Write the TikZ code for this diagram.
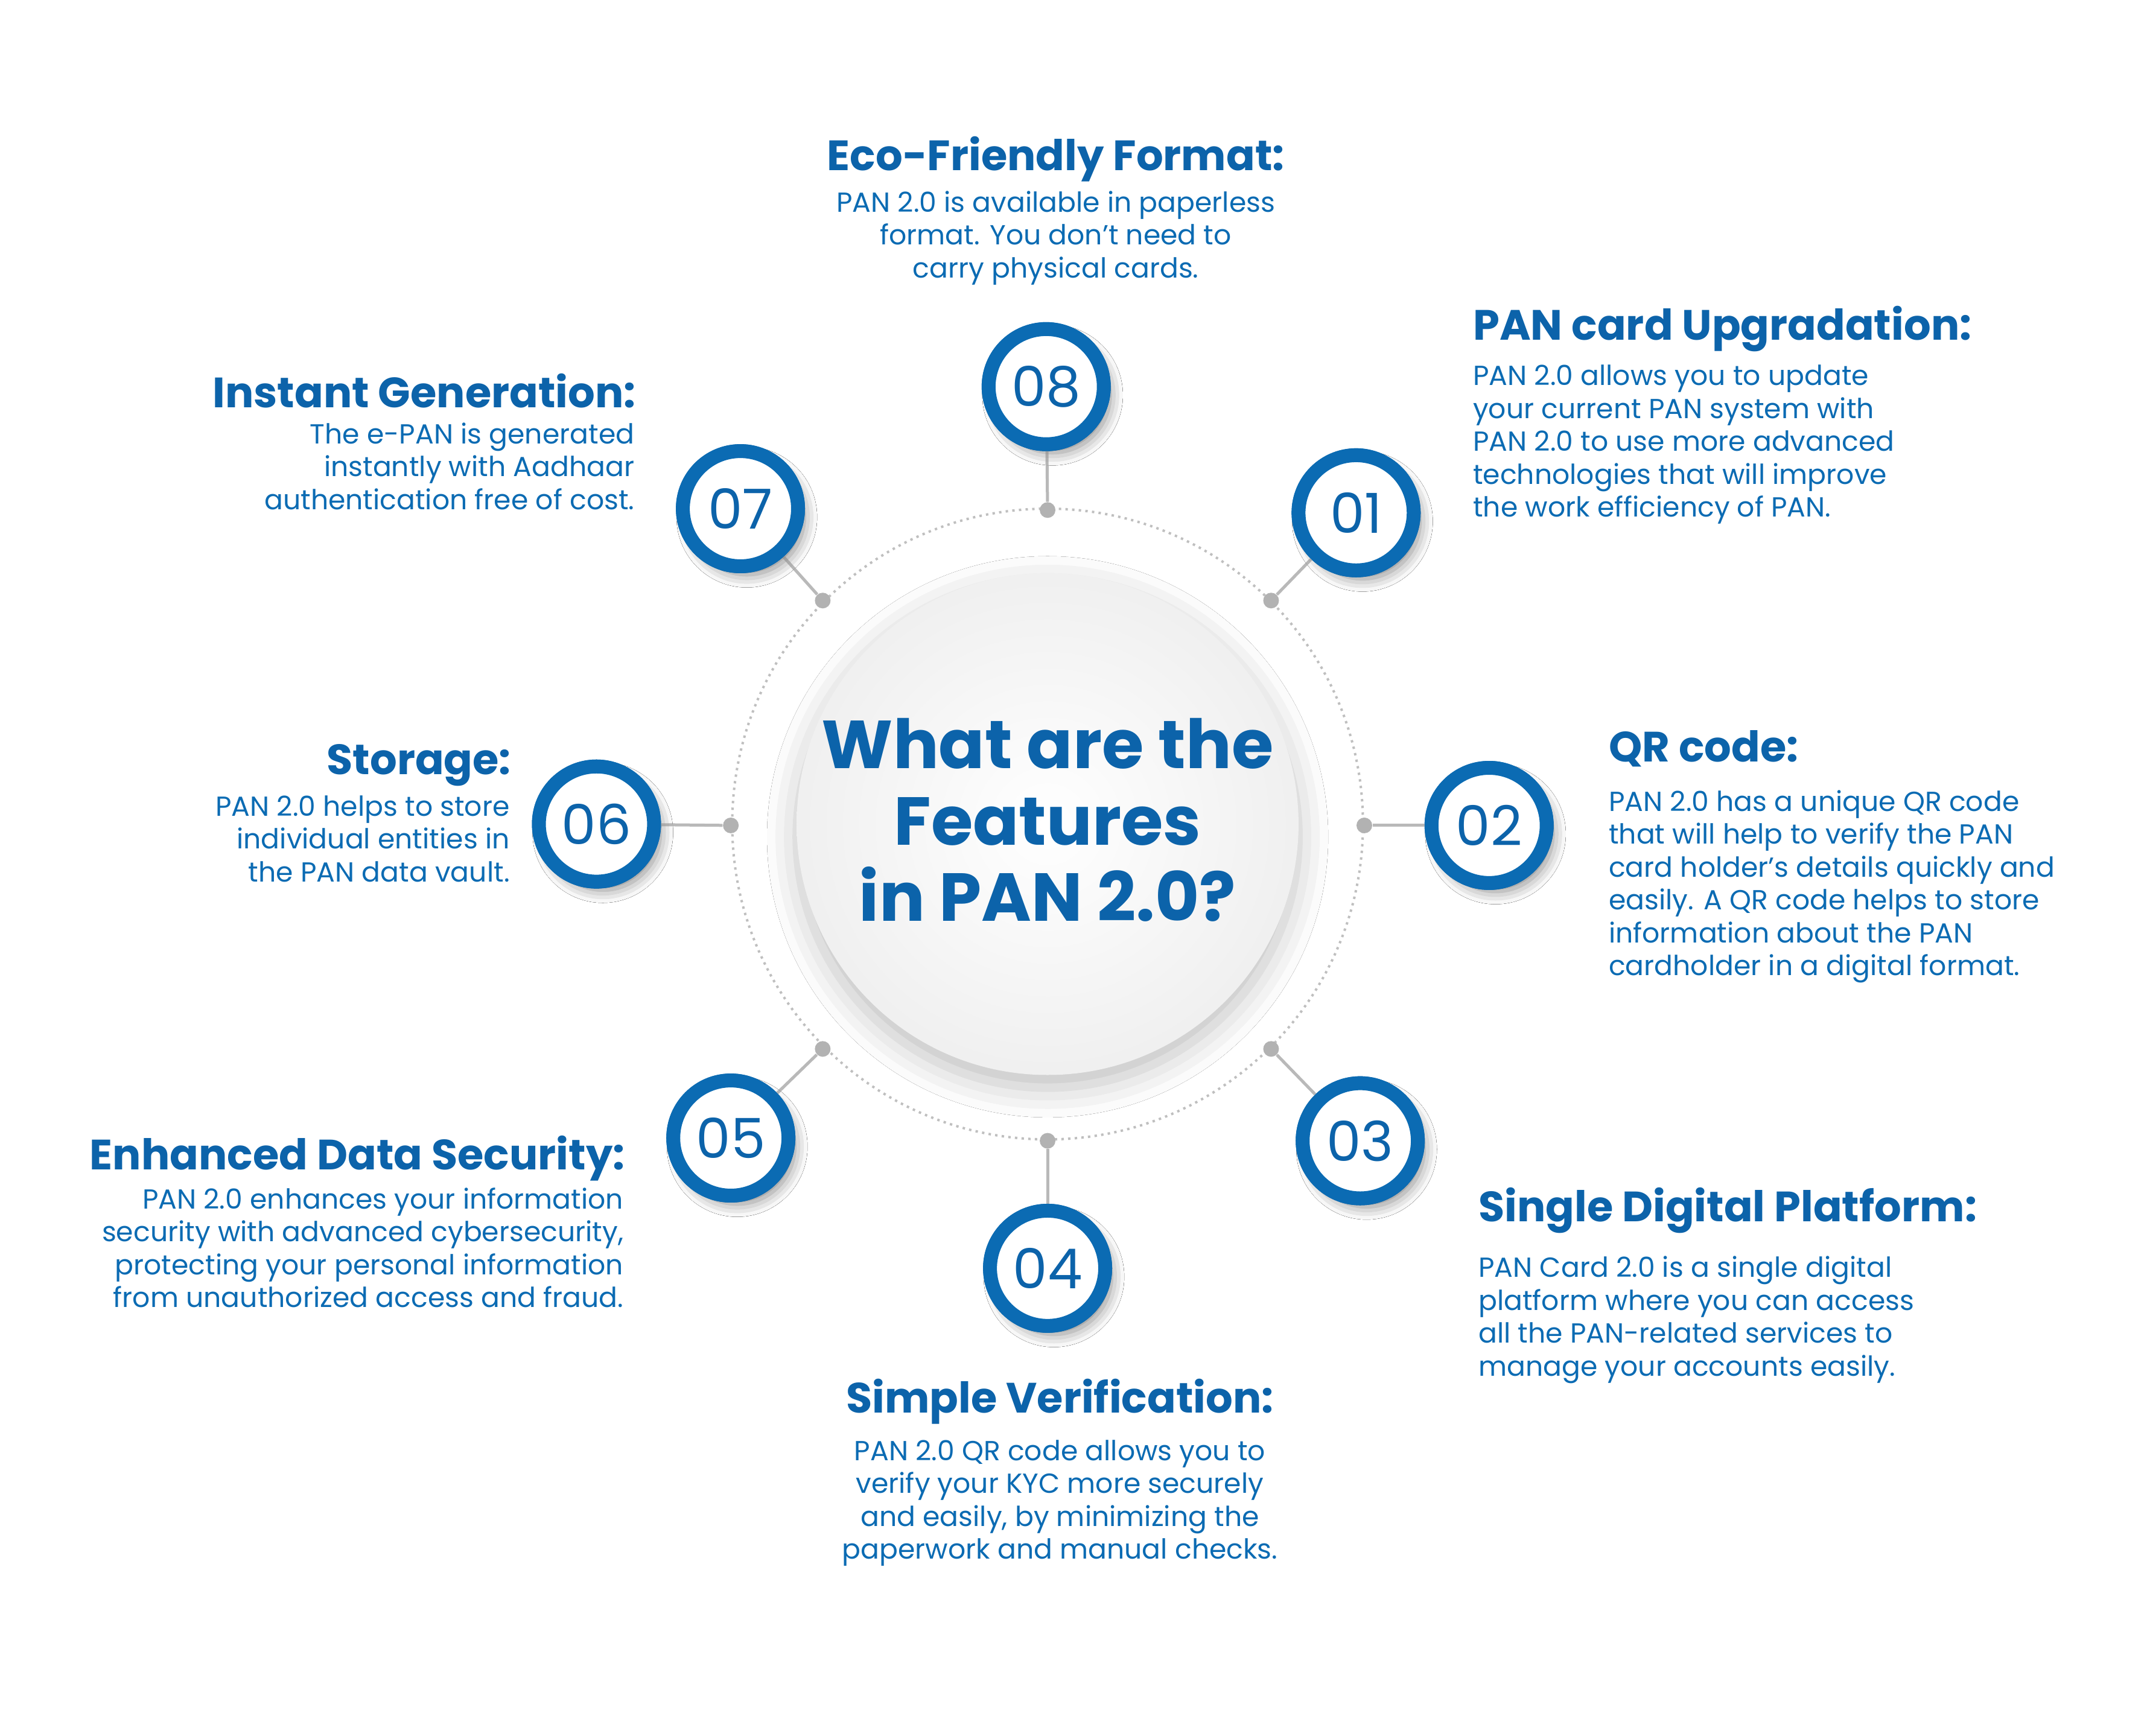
\documentclass[tikz,border=0pt]{standalone}
\usepackage{fontspec}
\setmainfont{Poppins}
\usetikzlibrary{shadows,shadows.blur}
\definecolor{pblue}{HTML}{0B6BB3}
\definecolor{tblue}{HTML}{0C63AA}
\begin{document}
\begin{tikzpicture}[x=0.02272cm,y=-0.02272cm,
 head/.style={font=\fontsize{20}{24}\selectfont\bfseries, text=tblue, inner sep=0},
 body/.style={font=\fontsize{13}{15.5}\selectfont, text=pblue, inner sep=0},
 numc/.style={circle, draw=pblue, line width=0.23cm, fill=white, minimum size=84*0.02272cm, font=\fontsize{26}{28}\selectfont, text=tblue, blur shadow={shadow xshift=3pt, shadow yshift=-4pt, shadow blur radius=6pt, shadow opacity=25}},
 dot/.style={circle, fill=gray!60, inner sep=0, minimum size=0.26cm},
 conn/.style={draw=gray!55, line width=0.05cm}]
\useasboundingbox (0,0) rectangle (1568,1265.8);
\fill[white] (0,0) rectangle (1568,1265.8);
% ring
\draw[gray!50, dotted, line width=0.04cm] (764,601) circle[radius=230];
\node[circle, minimum size=366*0.02272cm, inner color=white, outer color=gray!12, blur shadow={shadow xshift=0pt, shadow yshift=-6pt, shadow blur radius=14pt, shadow opacity=25}] (center) at (764,601) {};
\node[font=\fontsize{32}{36}\selectfont\bfseries, text=tblue, align=center] at (764,598) {What are the\\Features\\in PAN 2.0?};
% dots
\node[dot] (d8) at (764,372) {};
\node[dot] (d1) at (927,438) {};
\node[dot] (d2) at (995,602) {};
\node[dot] (d3) at (927,765) {};
\node[dot] (d4) at (764,832) {};
\node[dot] (d5) at (600,765) {};
\node[dot] (d6) at (533,602) {};
\node[dot] (d7) at (600,438) {};
% number circles
\node[numc] (n8) at (763,282) {08};
\node[numc] (n1) at (989,374) {01};
\node[numc] (n2) at (1086,602) {02};
\node[numc] (n3) at (992,832) {03};
\node[numc] (n4) at (764,925) {04};
\node[numc] (n5) at (533,830) {05};
\node[numc] (n6) at (435,601) {06};
\node[numc] (n7) at (540,371) {07};
\begin{scope}[on background layer/.style={}]
\foreach \i in {1,...,8}{\draw[conn] (d\i) -- (n\i);}
\end{scope}
\foreach \i in {1,...,8}{\node[numc] at (n\i) {\ifcase\i\or 01\or 02\or 03\or 04\or 05\or 06\or 07\or 08\fi};}
% texts
\node[head, anchor=center] (h8) at (770,116) {Eco-Friendly Format:};
\node[body, anchor=north, align=center] (b8) at (770,139) {PAN 2.0 is available in paperless\\format. You don't need to\\carry physical cards.};
\node[head, anchor=west] (h1) at (1074,240) {PAN card Upgradation:};
\node[body, anchor=north west, align=left] (b1) at (1074,266) {PAN 2.0 allows you to update\\your current PAN system with\\PAN 2.0 to use more advanced\\technologies that will improve\\the work efficiency of PAN.};
\node[head, anchor=east] (h7) at (464,285) {Instant Generation:};
\node[body, anchor=north east, align=right] (b7) at (463,308) {The e-PAN is generated\\instantly with Aadhaar\\authentication free of cost.};
\node[head, anchor=east] (h6) at (373,558) {Storage:};
\node[body, anchor=north east, align=right] (b6) at (372,580) {PAN 2.0 helps to store\\individual entities in\\the PAN data vault.};
\node[head, anchor=west] (h2) at (1173,546) {QR code:};
\node[body, anchor=north west, align=left] (b2) at (1173,576) {PAN 2.0 has a unique QR code\\that will help to verify the PAN\\card holder's details quickly and\\easily. A QR code helps to store\\information about the PAN\\cardholder in a digital format.};
\node[head, anchor=east] (h5) at (456,845) {Enhanced Data Security:};
\node[body, anchor=north east, align=right] (b5) at (455,866) {PAN 2.0 enhances your information\\security with advanced cybersecurity,\\protecting your personal information\\from unauthorized access and fraud.};
\node[head, anchor=west] (h3) at (1078,883) {Single Digital Platform:};
\node[body, anchor=north west, align=left] (b3) at (1078,916) {PAN Card 2.0 is a single digital\\platform where you can access\\all the PAN-related services to\\manage your accounts easily.};
\node[head, anchor=center] (h4) at (773,1022) {Simple Verification:};
\node[body, anchor=north, align=center] (b4) at (773,1050) {PAN 2.0 QR code allows you to\\verify your KYC more securely\\and easily, by minimizing the\\paperwork and manual checks.};
\end{tikzpicture}
\end{document}
